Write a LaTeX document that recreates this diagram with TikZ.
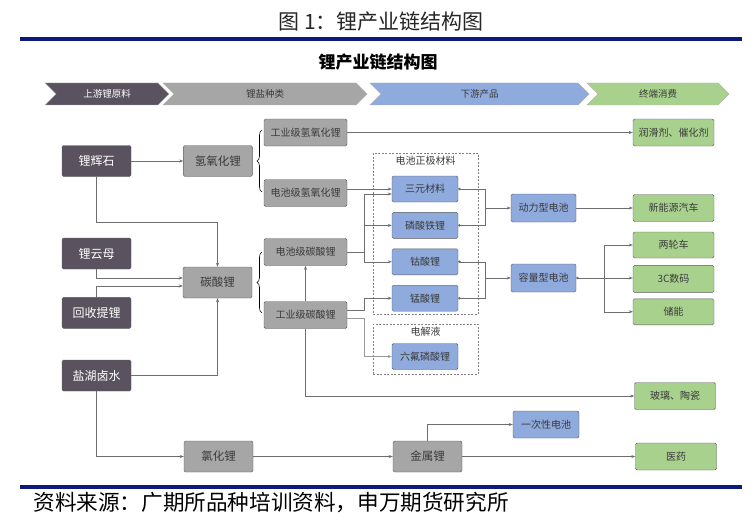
\documentclass[tikz,border=0pt]{standalone}
\usepackage{fontspec}
\setmainfont{Noto Sans CJK SC}
\usetikzlibrary{shapes.symbols, arrows.meta, positioning, decorations.pathreplacing}

\definecolor{navyrule}{HTML}{0B1A78}
\definecolor{rawc}{HTML}{5B5260}
\definecolor{saltc}{HTML}{A6A6A6}
\definecolor{prodc}{HTML}{8FAADC}
\definecolor{endc}{HTML}{A9D18E}
\definecolor{boxline}{HTML}{5A5A5A}
\definecolor{linec}{HTML}{6E6E6E}
\definecolor{textc}{HTML}{3A3A3A}

\begin{document}
\begin{tikzpicture}[
    x=1pt, y=-1pt,
    stage/.style={signal, signal to=east, signal from=west, draw=gray!60, minimum height=22pt, inner sep=0pt, font=\fontsize{9.5}{11}\selectfont},
    box/.style={draw=boxline, rounded corners=1.5pt, inner sep=1pt, align=center, text=textc, font=\fontsize{10}{12}\selectfont},
    rawbox/.style={box, fill=rawc, text=white, minimum width=69pt, minimum height=31pt, font=\fontsize{12}{14}\selectfont},
    saltbox/.style={box, fill=saltc, minimum width=69pt, minimum height=31pt, font=\fontsize{11.5}{14}\selectfont},
    gradebox/.style={box, fill=saltc, minimum width=83pt, minimum height=27pt},
    prodbox/.style={box, fill=prodc, minimum width=66pt, minimum height=26pt},
    endbox/.style={box, fill=endc, minimum width=81pt, minimum height=27pt},
    group/.style={draw=gray, line width=0.8pt, dash pattern=on 2pt off 1.5pt, inner sep=0pt},
    grouptitle/.style={text=textc, inner sep=0pt, font=\fontsize{10}{12}\selectfont},
    link/.style={draw=linec, line width=0.6pt, -{Stealth[length=4pt, width=3pt]}},
    dotlink/.style={link, {Circle[length=2.5pt]}-{Stealth[length=4pt, width=3pt]}},
    bus/.style={draw=linec, line width=0.6pt, {Circle[length=2.5pt]}-},
    brace/.style={draw=black, line width=0.6pt, decorate, decoration={brace, amplitude=5pt}}
]
    \useasboundingbox (0,0) rectangle (754,524);

    % Title and rules
    \node[text=black!85, font=\fontsize{21}{24}\selectfont] (title) at (381,22) {图 1：锂产业链结构图};
    \draw[navyrule, line width=3.6pt] (20,39) -- (742,39);
    \node[font=\fontsize{17}{20}\selectfont\bfseries] (subtitle) at (378,62) {锂产业链结构图};

    % Stages
    \node[stage, fill=rawc, text=white, minimum width=124pt] (stage1) at (107,94) {上游锂原料};
    \node[stage, fill=saltc, text=textc, minimum width=204pt] (stage2) at (265,94) {锂盐种类};
    \node[stage, fill=prodc, text=textc, minimum width=219pt] (stage3) at (479.5,94) {下游产品};
    \node[stage, fill=endc, text=textc, minimum width=142pt] (stage4) at (658,94) {终端消费};

    % Raw materials
    \node[rawbox] (spodumene) at (96.5,161) {锂辉石};
    \node[rawbox] (lepidolite) at (96.5,253.5) {锂云母};
    \node[rawbox, below=28pt of lepidolite] (recycle) {回收提锂};
    \node[rawbox] (brine) at (96.5,375.5) {盐湖卤水};

    % Lithium salts
    \node[saltbox, right=52pt of spodumene] (lioh) {氢氧化锂};
    \node[saltbox] (carbonate) at (217.5,282.5) {碳酸锂};
    \node[saltbox] (licl) at (218.5,456.5) {氯化锂};
    \node[saltbox] (metal) at (427.5,456.5) {金属锂};
    \node[gradebox] (indlioh) at (305.5,132.5) {工业级氢氧化锂};
    \node[gradebox] (batlioh) at (305.5,193) {电池级氢氧化锂};
    \node[gradebox] (batcarb) at (305.5,252) {电池级碳酸锂};
    \node[gradebox] (indcarb) at (305.5,315) {工业级碳酸锂};

    % Downstream products
    \node[group, minimum width=105pt, minimum height=161pt] (cathode) at (425.5,233.5) {};
    \node[grouptitle, below=3pt of cathode.north] (cathodetitle) {电池正极材料};
    \node[group, minimum width=105pt, minimum height=50pt] (electrolyte) at (425.5,349) {};
    \node[grouptitle, below=3pt of electrolyte.north] (electrolytetitle) {电解液};
    \node[prodbox] (ncm) at (425,189) {三元材料};
    \node[prodbox, below=10pt of ncm] (lfp) {磷酸铁锂};
    \node[prodbox, below=10pt of lfp] (lco) {钴酸锂};
    \node[prodbox, below=10pt of lco] (lmo) {锰酸锂};
    \node[prodbox] (lipf) at (425,356.5) {六氟磷酸锂};
    \node[prodbox, minimum width=65pt, minimum height=28pt] (power) at (543.5,208) {动力型电池};
    \node[prodbox, minimum width=65pt, minimum height=28pt] (capacity) at (543.5,278) {容量型电池};
    \node[prodbox, minimum width=66pt, minimum height=27pt] (primary) at (546,424.5) {一次性电池};

    % End uses
    \node[endbox] (lube) at (673.5,132.5) {润滑剂、催化剂};
    \node[endbox] (nev) at (673.5,208) {新能源汽车};
    \node[endbox, minimum height=26pt] (ebike) at (673.5,245) {两轮车};
    \node[endbox, below=7pt of ebike] (digital) {3C数码};
    \node[endbox, minimum height=26pt, below=6pt of digital] (storage) {储能};
    \node[endbox] (glass) at (675,396) {玻璃、陶瓷};
    \node[endbox] (pharma) at (676,456.5) {医药};

    % Footer
    \draw[navyrule, line width=3.6pt] (20,487) -- (742,487);
    \node[anchor=west, text=black, font=\fontsize{21.6}{24}\selectfont] (source) at (30,503) {资料来源：广期所品种培训资料，申万期货研究所};

    % Junctions
    \coordinate (batjoin) at (364,252);
    \coordinate (powerbus) at (485,208);
    \coordinate (capbus) at (485,278);
    \coordinate (usebus) at (604,278);

    % Links
    \draw[link] (spodumene) -- (lioh);
    \draw[link] (spodumene.south) -- ++(0,46) -| (carbonate.north);
    \draw[link] (lepidolite.south) |- ([yshift=4.5pt]carbonate.west);
    \draw[link] (recycle.north) |- ([yshift=-3.5pt]carbonate.west);
    \draw[link] (brine.east) -| (carbonate.south);
    \draw[link] (brine.south) |- (licl.west);
    \draw[link] (licl) -- (metal);
    \draw[link] (metal) -- (pharma);
    \draw[link] (metal.north) |- (primary.west);

    \draw[brace] (262,192) -- (262,130);
    \draw[brace] (262,313) -- (262,252);

    \draw[link] (indlioh) -- (lube);
    \draw[link] (batlioh.east |- ncm.west) -- (ncm.west);
    \draw[linec, line width=0.6pt] (batcarb.east) -- (batjoin);
    \draw[link] (batjoin) |- ([yshift=-5pt]ncm.west);
    \draw[link] (batjoin) |- (lfp.west);
    \draw[link] (batjoin) |- (lco.west);
    \draw[link] ([yshift=5pt]indcarb.east) -- ++(17,0) |- (lmo.west);
    \draw[link, draw=linec!70] ([yshift=-3pt]indcarb.east) -- ++(17,0) |- (lipf.west);
    \draw[link] (indcarb.north) -- (batcarb.south);
    \draw[link] (indcarb.south) |- (glass.west);

    \draw[bus] (ncm.east) -| (powerbus);
    \draw[bus] (lfp.east) -| (powerbus);
    \draw[link] (powerbus) -- (power.west);
    \draw[bus] (lco.east) -| (capbus);
    \draw[bus] (lmo.east) -| (capbus);
    \draw[link] (capbus) -- (capacity.west);
    \draw[link] (power) -- (nev);
    \draw[dotlink] (capacity.east) -- (digital.west |- capacity.east);
    \draw[link] (usebus) |- (ebike.west);
    \draw[link] (usebus) |- (storage.west);
\end{tikzpicture}
\end{document}
